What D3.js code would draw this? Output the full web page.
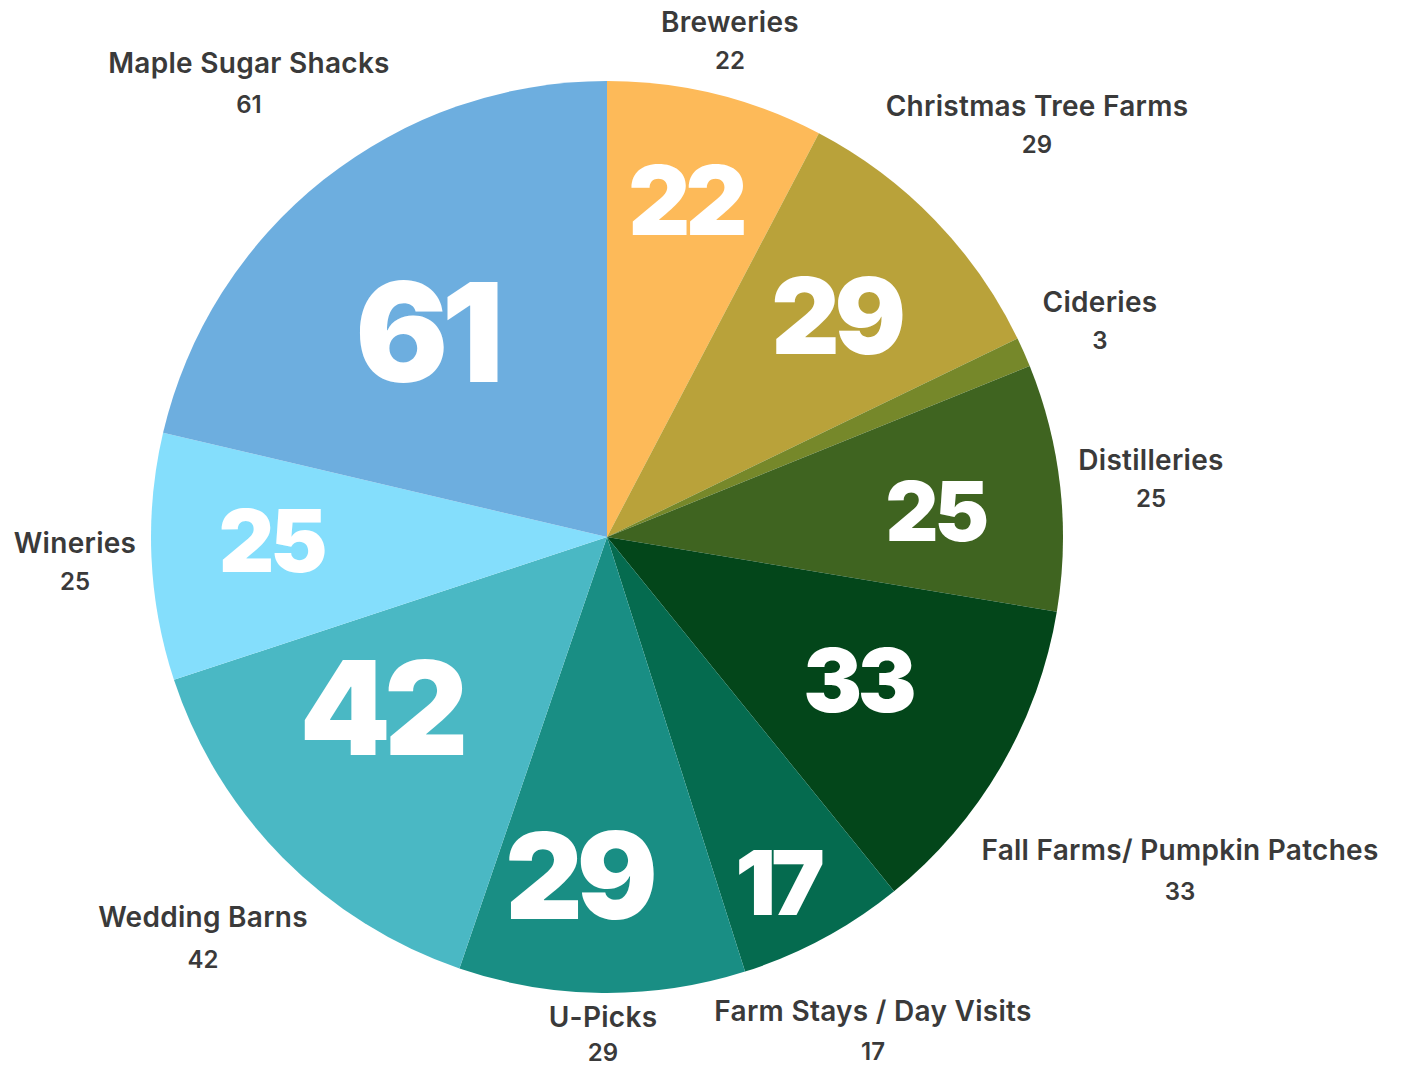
<!DOCTYPE html>
<html lang="en">
	<head>
		<meta charset="utf-8">
		<title>Agritourism businesses by type</title>
		<script type="text/javascript" src="https://cdn.jsdelivr.net/npm/d3@7"></script>
		<style type="text/css">
			body { margin: 0; background: #fff; }
			text { font-family: Inter, "Open Sans", sans-serif; }
		</style>
	</head>
	<body>
		<script type="text/javascript">

			// Data, clockwise from 12 o'clock
			var categories = ["Breweries", "Christmas Tree Farms", "Cideries", "Distilleries",
							  "Fall Farms/ Pumpkin Patches", "Farm Stays / Day Visits", "U-Picks",
							  "Wedding Barns", "Wineries", "Maple Sugar Shacks"];
			var values = [22, 29, 3, 25, 33, 17, 29, 42, 25, 61];
			var colors = ["#FDBA59", "#B9A23A", "#76882A", "#3F6420", "#03461A",
						  "#056B4F", "#198E84", "#4AB8C4", "#84DEFC", "#6DAEDF"];

			// Layout (separate from data)
			var w = 1410;
			var h = 1069;
			var cx = 607, cy = 537, radius = 456;

			// big number inside each slice: font size and nudge from centroid
			var innerSize = [96, 106, 0, 82, 88, 90, 120, 130, 86, 138];
			var innerNudge = [[0, -18], [-7, 7], [0, 0], [2, 10], [-33, -22],
							  [15, 57], [-25, 10], [7, -60], [-8, -10], [23, 53]];
			// outer label anchor (centre of name line) and gap to value line
			var outerPos = [[730, 22], [1037, 106], [1100, 302], [1151, 460], [1180, 850],
							[873, 1011], [603, 1017], [203, 917], [75, 543], [249, 63]];
			var valueGap = [38, 38, 38, 38, 41, 40, 35, 42, 38, 41];

			var svg = d3.select("body")
						.append("svg")
						.attr("width", w)
						.attr("height", h);

			var pie = d3.pie()
						.sort(null)
						.value(function(d) { return d; });

			var arc = d3.arc()
						.innerRadius(0)
						.outerRadius(radius);

			var labelArc = d3.arc()
							 .innerRadius(radius * 0.72)
							 .outerRadius(radius * 0.72);

			var arcs = pie(values);

			var g = svg.append("g")
					   .attr("transform", "translate(" + cx + "," + cy + ")");

			// Slices
			g.selectAll("path")
			 .data(arcs)
			 .enter()
			 .append("path")
			 .attr("d", arc)
			 .attr("fill", function(d, i) { return colors[i]; });

			// Big white numbers
			g.selectAll("text.big")
			 .data(arcs)
			 .enter()
			 .filter(function(d, i) { return innerSize[i] > 0; })
			 .append("text")
			 .attr("class", "big")
			 .attr("x", function(d) { return labelArc.centroid(d)[0] + innerNudge[d.index][0]; })
			 .attr("y", function(d) { return labelArc.centroid(d)[1] + innerNudge[d.index][1]; })
			 .attr("dy", "0.36em")
			 .attr("text-anchor", "middle")
			 .attr("fill", "#fff")
			 .style("font-weight", 900)
			 .style("letter-spacing", "-0.05em")
			 .style("font-size", function(d) { return innerSize[d.index] + "px"; })
			 .text(function(d) { return d.data; });

			// Outer labels: name + value
			var outer = svg.selectAll("g.outer")
						   .data(categories)
						   .enter()
						   .append("g")
						   .attr("class", "outer")
						   .attr("transform", function(d, i) { return "translate(" + outerPos[i][0] + "," + outerPos[i][1] + ")"; });

			outer.append("text")
				 .attr("text-anchor", "middle")
				 .attr("dy", "0.36em")
				 .attr("fill", "#3a3a3a")
				 .style("font-weight", 600)
				 .style("font-size", "28px")
				 .style("letter-spacing", "0.01em")
				 .text(function(d) { return d; });

			outer.append("text")
				 .attr("text-anchor", "middle")
				 .attr("y", function(d, i) { return valueGap[i]; })
				 .attr("dy", "0.36em")
				 .attr("fill", "#3a3a3a")
				 .style("font-weight", 600)
				 .style("font-size", "24px")
				 .text(function(d, i) { return values[i]; });

		</script>
	</body>
</html>
